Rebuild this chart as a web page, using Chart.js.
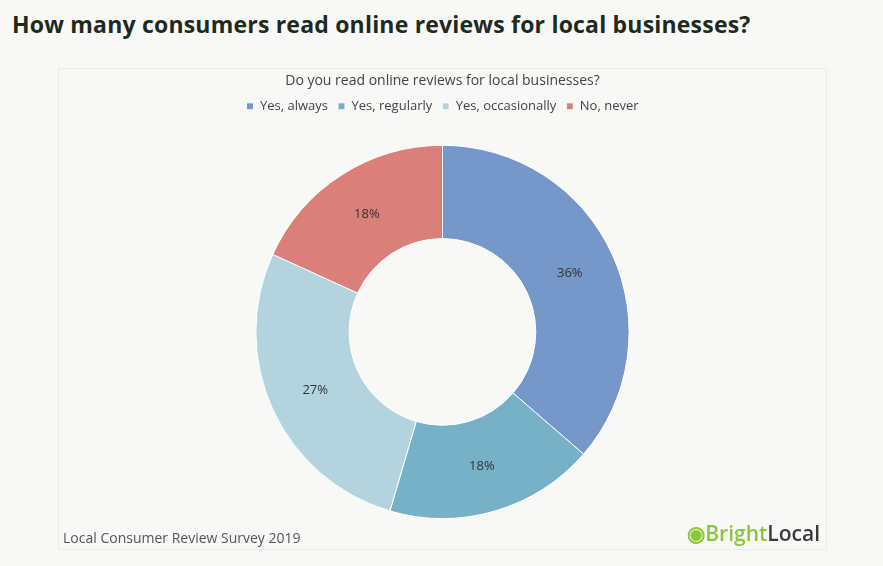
<!DOCTYPE html>
<html><head><meta charset="utf-8">
<script src="https://cdn.jsdelivr.net/npm/chart.js@4/dist/chart.umd.min.js"></script>
<style>
body{margin:0;background:#f8f8f6;width:883px;height:566px;position:relative;font-family:"Source Sans Pro","Open Sans",Lato,sans-serif;overflow:hidden}
h1{position:absolute;left:12px;top:8px;margin:0;font-size:23px;font-weight:700;color:#1e2a1e;font-family:"Open Sans",sans-serif;letter-spacing:0.2px}
#card{position:absolute;left:58px;top:68px;width:767px;height:480px;border:1px solid #ecece8;background:#f8f8f6}
#wrap{position:absolute;left:0;top:0;width:767px;height:480px}
#foot{position:absolute;left:4px;bottom:2px;font-size:14px;color:#555;font-family:"Open Sans",sans-serif}
#logo{position:absolute;right:6px;bottom:2px;font-size:21px;color:#3a3a3a;font-family:"Open Sans",sans-serif;font-weight:600}
#logo span{color:#8cc63f}
</style></head><body>
<h1>How many consumers read online reviews for local businesses?</h1>
<div id="card"><div id="wrap"><canvas id="c"></canvas></div>
<div id="foot">Local Consumer Review Survey 2019</div>
<div id="logo"><span>&#9673;</span><span>Bright</span>Local</div></div>
<script>
const categories=["Yes, always","Yes, regularly","Yes, occasionally","No, never"];
const values=[36,18,27,18];
const labels=["36%","18%","27%","18%"];
const colors=["#7697c9","#77b1c7","#b3d4df","#db7f7a"];
const lblPlugin={id:'lbl',afterDatasetsDraw(chart){const ctx=chart.ctx;chart.getDatasetMeta(0).data.forEach((a,i)=>{const p=a.tooltipPosition();ctx.save();ctx.fillStyle='#333';ctx.font='13px "Open Sans",sans-serif';ctx.textAlign='center';ctx.textBaseline='middle';ctx.fillText(labels[i],p.x,p.y);ctx.restore();});}};
const legGap={id:'legGap',beforeInit(chart){const f=chart.legend.fit;chart.legend.fit=function(){f.call(this);this.height+=22;};}};
new Chart(document.getElementById('c'),{type:'doughnut',
data:{labels:categories,datasets:[{data:values,backgroundColor:colors,borderColor:'#ffffff',borderWidth:1}]},
options:{responsive:true,maintainAspectRatio:false,animation:false,cutout:'50%',
layout:{padding:{top:0,bottom:30}},
plugins:{tooltip:{enabled:false},
title:{display:true,text:'Do you read online reviews for local businesses?',color:'#444',font:{size:14,family:'"Open Sans",sans-serif',weight:'normal'},padding:{top:4,bottom:0}},
legend:{labels:{usePointStyle:true,pointStyle:'rect',boxWidth:7,boxHeight:7,color:'#444',font:{size:13,family:'"Open Sans",sans-serif'},padding:10}}}},
plugins:[lblPlugin,legGap]});
</script></body></html>
